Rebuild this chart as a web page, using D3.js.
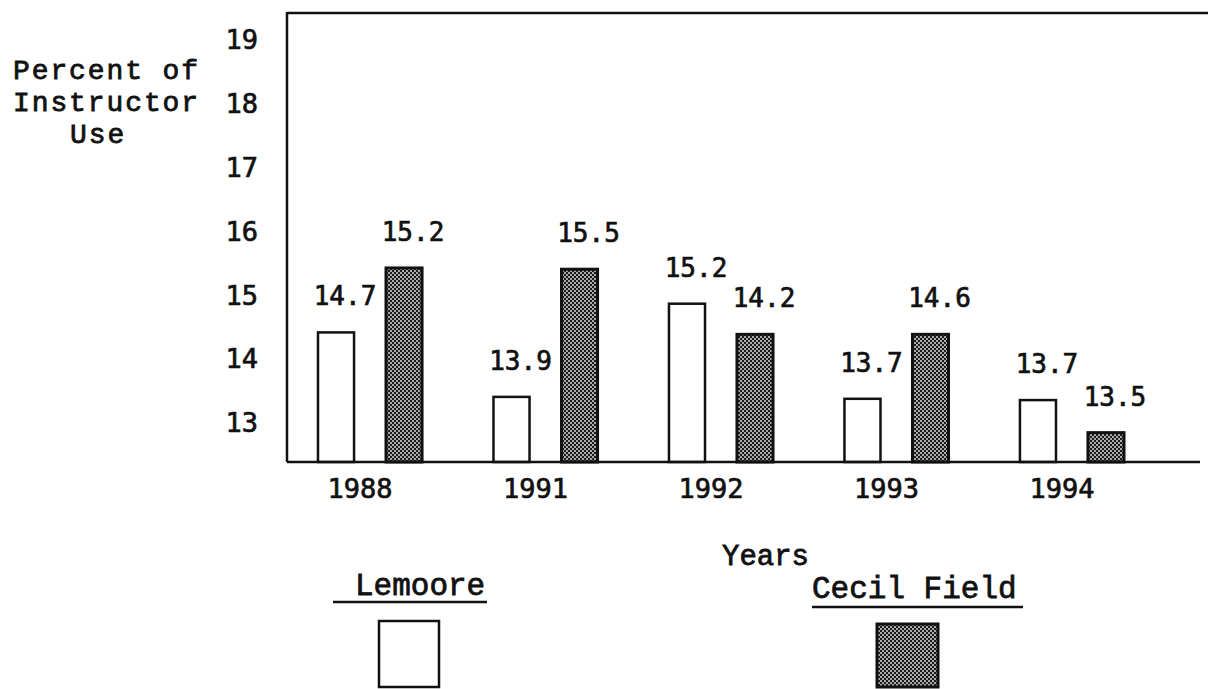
<!DOCTYPE html>
<html>
<head>
<meta charset="utf-8">
<script src="https://cdn.jsdelivr.net/npm/d3@7"></script>
<style>
body { margin: 0; background: #fff; }
</style>
</head>
<body>
<div id="chart"></div>
<script>
//Size of the drawing
var width = 1211, height = 689;

//Categories and series
var years = ["1988", "1991", "1992", "1993", "1994"];
var series = ["Lemoore", "Cecil Field"];
//Values printed above the bars
var lemooreLabels = [14.7, 13.9, 15.2, 13.7, 13.7];
var cecilLabels = [15.2, 15.5, 14.2, 14.6, 13.5];
//Bar heights as they are drawn against the axis (the original does not match its own labels)
var lemooreBars = [14.42, 13.41, 14.87, 13.38, 13.36];
var cecilBars = [15.43, 15.41, 14.39, 14.39, 12.85];
//Axis ticks and titles
var yTicks = [13, 14, 15, 16, 17, 18, 19];
var yTitle = ["Percent of", "Instructor", "Use"];
var xTitle = "Years";

var monoSans = "'DejaVu Sans Mono', monospace";
var courier = "'Liberation Mono', 'Courier New', monospace";
var ink = "#111";

var svg = d3.select("#chart").append("svg")
    .attr("width", width)
    .attr("height", height)
    .style("display", "block");

svg.append("rect").attr("width", width).attr("height", height).attr("fill", "#fff");

//halftone fill for Cecil Field
var pat = svg.append("defs").append("pattern")
    .attr("id", "dots")
    .attr("width", 4).attr("height", 4)
    .attr("patternUnits", "userSpaceOnUse");
pat.append("rect").attr("width", 4).attr("height", 4).attr("fill", "#1c1c1c");
pat.append("circle").attr("cx", 1).attr("cy", 1).attr("r", 0.95).attr("fill", "#e6e6e6");
pat.append("circle").attr("cx", 3).attr("cy", 3).attr("r", 0.95).attr("fill", "#e6e6e6");

var fills = { "Lemoore": "#fff", "Cecil Field": "url(#dots)" };

//Scales
var x0 = d3.scaleBand().domain(years).range([318, 1124]).paddingInner(0.407);
var x1 = d3.scaleBand().domain(series).range([0, x0.bandwidth()]).paddingInner(0.47);
var y = d3.scaleLinear().domain([12.39, 19.44]).range([462, 12]);

//Rows for the bars
var rows = [];
for (var i = 0; i < years.length; i++) {
    rows.push({ year: years[i], series: "Lemoore", bar: lemooreBars[i], label: lemooreLabels[i] });
    rows.push({ year: years[i], series: "Cecil Field", bar: cecilBars[i], label: cecilLabels[i] });
}

//thicken the thin system fonts a little, like the typewritten original
function inked(sel, w) {
    sel.attr("fill", ink).attr("stroke", ink).attr("stroke-width", w);
}

//Frame: left axis, top line
var x0Left = 287;
svg.append("line").attr("x1", x0Left).attr("x2", x0Left).attr("y1", y.range()[1]).attr("y2", y.range()[0])
    .attr("stroke", ink).attr("stroke-width", 2.5);
svg.append("line").attr("x1", x0Left).attr("x2", 1208).attr("y1", 13).attr("y2", 13)
    .attr("stroke", ink).attr("stroke-width", 2.5);

//Bars
svg.append("g").selectAll("rect")
    .data(rows)
    .enter().append("rect")
    .attr("x", function(d) { return x0(d.year) + x1(d.series); })
    .attr("y", function(d) { return y(d.bar); })
    .attr("width", x1.bandwidth())
    .attr("height", function(d) { return y.range()[0] - y(d.bar); })
    .attr("fill", function(d) { return fills[d.series]; })
    .attr("stroke", ink)
    .attr("stroke-width", function(d) { return d.series == "Lemoore" ? 2.5 : 3; });

//Value labels
svg.append("g").selectAll("text")
    .data(rows)
    .enter().append("text")
    .attr("x", function(d) { return x0(d.year) + x1(d.series) + x1.bandwidth() / 2 + 9; })
    .attr("y", function(d) { return y(d.bar) - 27; })
    .attr("text-anchor", "middle")
    .attr("font-family", monoSans)
    .attr("font-size", 26)
    .call(inked, 0.7)
    .text(function(d) { return d3.format(".1f")(d.label); });

//Baseline drawn over the bars
svg.append("line").attr("x1", x0Left).attr("x2", 1200).attr("y1", 462).attr("y2", 462)
    .attr("stroke", ink).attr("stroke-width", 2.5);

//Y axis labels
var yAxis = svg.append("g")
    .attr("transform", "translate(" + x0Left + ",0)")
    .call(d3.axisLeft(y).tickValues(yTicks).tickSize(0).tickPadding(29).tickFormat(d3.format("d")));
yAxis.select(".domain").remove();
yAxis.selectAll("text")
    .attr("font-family", monoSans)
    .attr("font-size", 27)
    .call(inked, 0.7);

//X axis labels
var xAxis = svg.append("g")
    .attr("transform", "translate(0,462)")
    .call(d3.axisBottom(x0).tickSize(0).tickPadding(17));
xAxis.select(".domain").remove();
xAxis.selectAll("text")
    .attr("dx", -10)
    .attr("font-family", monoSans)
    .attr("font-size", 27)
    .call(inked, 0.7);

//Y title
svg.append("g").selectAll("text")
    .data(yTitle)
    .enter().append("text")
    .attr("x", function(d, i) { return i == 2 ? 70 : 13; })
    .attr("y", function(d, i) { return 79 + i * 32; })
    .attr("font-family", courier)
    .attr("font-size", 28)
    .attr("letter-spacing", 1.9)
    .call(inked, 0.8)
    .text(function(d) { return d; });

//X title
svg.append("text")
    .attr("x", 722).attr("y", 565)
    .attr("font-family", courier)
    .attr("font-size", 29)
    .call(inked, 0.8)
    .text(xTitle);

//Legend
var legendPos = [
    { tx: 355, ty: 595, ux1: 333, ux2: 487, uy: 602, bx: 379, by: 621, bw: 60, bh: 66 },
    { tx: 812, ty: 598, ux1: 812, ux2: 1023, uy: 607, bx: 877, by: 624, bw: 61, bh: 63 }
];
var legend = svg.append("g").selectAll("g")
    .data(series)
    .enter().append("g");
legend.append("text")
    .attr("x", function(d, i) { return legendPos[i].tx; })
    .attr("y", function(d, i) { return legendPos[i].ty; })
    .attr("font-family", courier)
    .attr("font-size", 31)
    .call(inked, 0.8)
    .text(function(d) { return d; });
legend.append("line")
    .attr("x1", function(d, i) { return legendPos[i].ux1; })
    .attr("x2", function(d, i) { return legendPos[i].ux2; })
    .attr("y1", function(d, i) { return legendPos[i].uy; })
    .attr("y2", function(d, i) { return legendPos[i].uy; })
    .attr("stroke", ink).attr("stroke-width", 2.5);
legend.append("rect")
    .attr("x", function(d, i) { return legendPos[i].bx; })
    .attr("y", function(d, i) { return legendPos[i].by; })
    .attr("width", function(d, i) { return legendPos[i].bw; })
    .attr("height", function(d, i) { return legendPos[i].bh; })
    .attr("fill", function(d) { return fills[d]; })
    .attr("stroke", ink)
    .attr("stroke-width", function(d) { return d == "Lemoore" ? 2.5 : 3; });
</script>
</body>
</html>
